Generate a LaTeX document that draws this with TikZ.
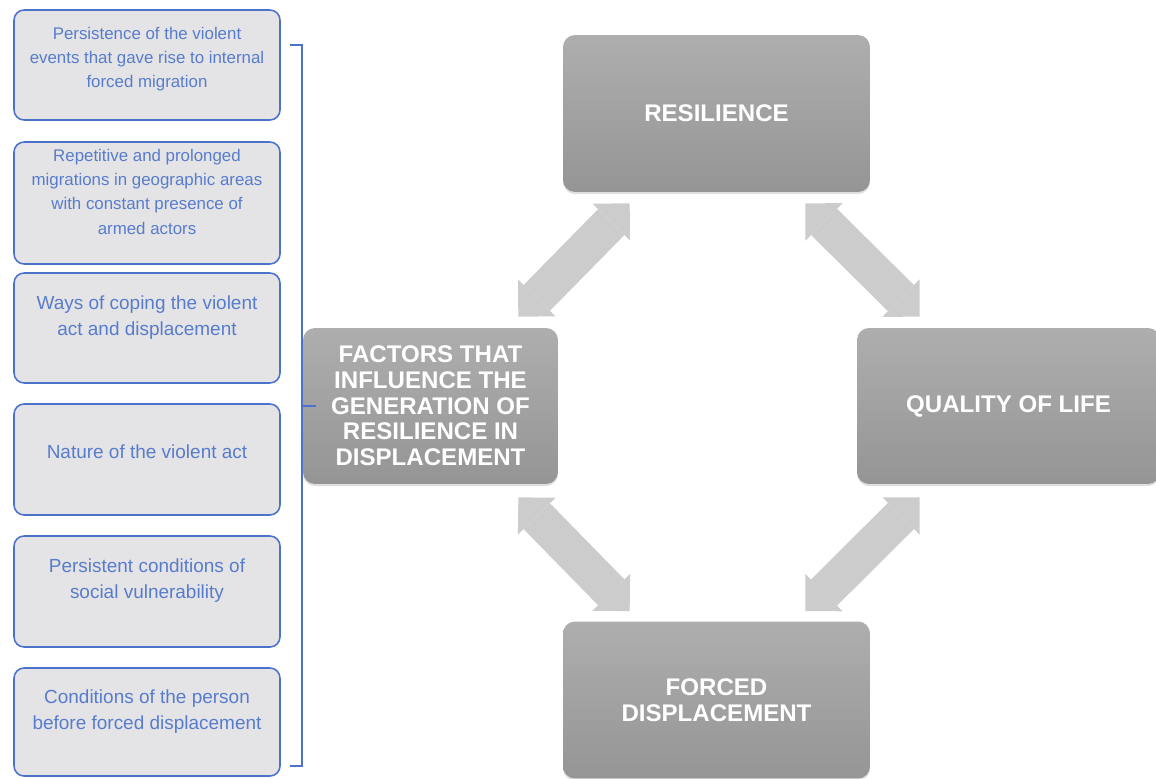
\documentclass[tikz,border=0pt]{standalone}
\usepackage{fontspec}
\setmainfont{Liberation Sans}
\usetikzlibrary{arrows.meta,calc,shadows}

\definecolor{sideblue}{RGB}{76,114,204}
\definecolor{sidetext}{RGB}{88,124,204}
\definecolor{sidefill}{RGB}{228,228,230}
\definecolor{boxtop}{RGB}{174,174,174}
\definecolor{boxbottom}{RGB}{149,149,149}
\definecolor{arrowgray}{RGB}{204,204,204}

\tikzset{
	sidebox/.style={draw=sideblue, line width=0.9pt, fill=sidefill, rounded corners=0.2cm, minimum width=5.32cm, align=center, text=sidetext, font=\fontsize{10.8}{14.7}\selectfont, text depth=0.5cm},
	smalltext/.style={font=\fontsize{9.6}{13.8}\selectfont},
	mainbox/.style={rounded corners=0.24cm, top color=boxtop, bottom color=boxbottom, text=white, align=center, font=\bfseries\fontsize{13.7}{14.6}\selectfont, drop shadow={shadow xshift=0pt, shadow yshift=-1.2pt, opacity=0.25}},
	dblarrow/.style={draw=arrowgray, line width=21pt, {Triangle[width=30pt,length=15pt,line width=0pt]}-{Triangle[width=30pt,length=15pt,line width=0pt]}},
	bracket/.style={draw=sideblue, line width=0.9pt}
}

\begin{document}
\begin{tikzpicture}[x=0.02cm,y=-0.02cm]
	\useasboundingbox (0,0) rectangle (1156,778);

	\node[sidebox, smalltext, minimum height=2.2cm, text depth=0.3cm] (b1) at (147,65) {Persistence of the violent\\events that gave rise to internal\\forced migration};
	\node[sidebox, smalltext, minimum height=2.44cm, text depth=0.45cm] (b2) at (147,203) {Repetitive and prolonged\\migrations in geographic areas\\with constant presence of\\armed actors};
	\node[sidebox, minimum height=2.2cm] (b3) at (147,328) {Ways of coping the violent\\act and displacement};
	\node[sidebox, minimum height=2.22cm, text depth=0.3cm] (b4) at (147,459.5) {Nature of the violent act};
	\node[sidebox, minimum height=2.22cm] (b5) at (147,591.5) {Persistent conditions of\\social vulnerability};
	\node[sidebox, minimum height=2.16cm] (b6) at (147,722) {Conditions of the person\\before forced displacement};

	\node[mainbox, minimum width=6.14cm, minimum height=3.14cm] (res) at (716.5,113.5) {RESILIENCE};
	\node[mainbox, minimum width=5.1cm, minimum height=3.12cm] (fac) at (430.5,406) {FACTORS THAT\\INFLUENCE THE\\GENERATION OF\\RESILIENCE IN\\DISPLACEMENT};
	\node[mainbox, minimum width=6.06cm, minimum height=3.12cm] (qol) at (1008.5,406) {QUALITY OF LIFE};
	\node[mainbox, minimum width=6.14cm, minimum height=3.14cm] (fd) at (716.5,700) {FORCED\\DISPLACEMENT};

	\draw[dblarrow] ($(fac.north east)+(-40,-11)$) -- ($(res.south west)+(67,11)$);
	\draw[dblarrow] ($(res.south east)+(-65,11)$) -- ($(qol.north west)+(63,-11)$);
	\draw[dblarrow] ($(fac.south east)+(-40,13)$) -- ($(fd.north west)+(67,-10)$);
	\draw[dblarrow] ($(qol.south west)+(63,13)$) -- ($(fd.north east)+(-65,-10)$);

	\draw[bracket] (290,45) -- (302,45) -- (302,766) -- (290,766);
	\draw[bracket] (fac.west) -- ++(13,0);
\end{tikzpicture}
\end{document}
